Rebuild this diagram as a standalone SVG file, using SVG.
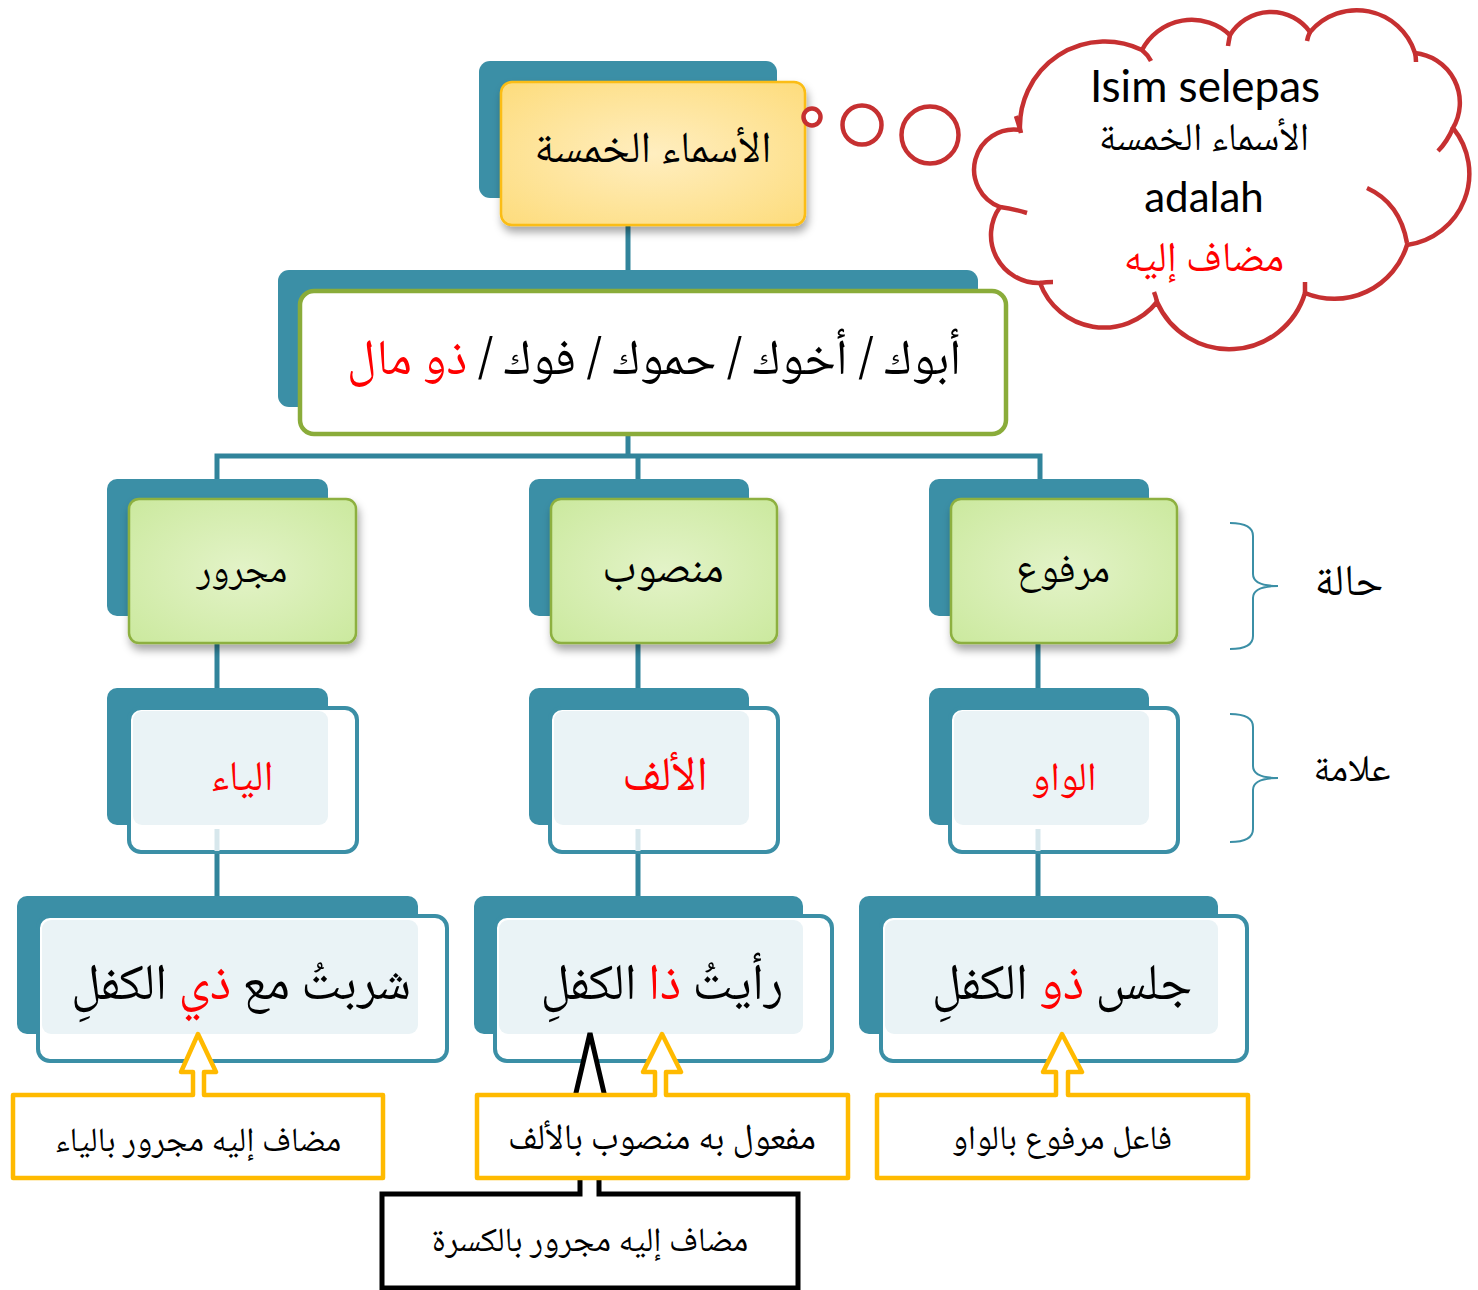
<svg xmlns="http://www.w3.org/2000/svg" width="1478" height="1290" viewBox="0 0 1478 1290">
<defs>
<radialGradient id="gYellow" cx="50%" cy="50%" r="70%">
<stop offset="0" stop-color="#ffeec0"/><stop offset="1" stop-color="#fddc7c"/>
</radialGradient>
<radialGradient id="gGreen" cx="50%" cy="50%" r="70%">
<stop offset="0" stop-color="#e3f3c8"/><stop offset="1" stop-color="#cbe99e"/>
</radialGradient>
<filter id="shadow" x="-10%" y="-10%" width="130%" height="140%">
<feDropShadow dx="2" dy="6" stdDeviation="4" flood-color="#000" flood-opacity="0.35"/>
</filter>
</defs>
<style>
.ar{font-family:"Noto Naskh Arabic","Amiri","Scheherazade New","Noto Sans Arabic","DejaVu Sans",sans-serif;direction:rtl;text-anchor:middle;fill:#000}
.lat{font-family:"Lato","Open Sans",sans-serif;text-anchor:middle;fill:#000}
.red{fill:#ff0000}
.back{fill:#3b8fa6}
.conn{stroke:#31849b;stroke-width:5;fill:none}
.gfront{fill:url(#gGreen);stroke:#8db03f;stroke-width:2.5;filter:url(#shadow)}
.yfront{fill:url(#gYellow);stroke:#fbbd12;stroke-width:2.5;filter:url(#shadow)}
.outline{fill:#fff;stroke:#3b8fa6;stroke-width:4}
.light{fill:#eaf3f6}
.callout{fill:#fff;stroke:#ffba00;stroke-width:4.5;stroke-linejoin:round}
.blackbox{fill:#fff;stroke:#000;stroke-width:5;stroke-linejoin:miter}
.cloud{fill:#fff;stroke:#c63031;stroke-width:4.5}
.brace{fill:none;stroke:#3b8fa6;stroke-width:2}
</style>

<g id="connectors">
<path class="conn" d="M628,222 V292"/>
<path class="conn" d="M628,433 V456 M217,479 V456 H1040 V479 M638,456 V479"/>
<path class="conn" d="M217,640 V690 M638,640 V690 M1038,640 V690"/>
<path class="conn" d="M217,851 V898 M638,851 V898 M1038,851 V898"/>
</g>

<g id="node-top">
<rect class="back" x="479" y="61" width="298" height="137" rx="11"/>
<rect class="yfront" x="501" y="82" width="304" height="143" rx="11"/>
<text class="ar" x="653" y="162" font-size="44">الأسماء الخمسة</text>
</g>

<g id="thought-bubbles">
<circle cx="812" cy="117" r="8.5" fill="#fff" stroke="#c63031" stroke-width="4.5"/>
<circle cx="862" cy="125" r="19.5" fill="#fff" stroke="#c63031" stroke-width="4.5"/>
<circle cx="930" cy="135" r="28.5" fill="#fff" stroke="#c63031" stroke-width="4.5"/>
</g>

<g id="node-cloud">
<path class="cloud" d="M1020,130 A85,85 0 0,1 1142,50 A56,56 0 0,1 1230,35 A48,48 0 0,1 1310,32 A61,61 0 0,1 1415,53 A50,50 0 0,1 1453,128 A72,72 0 0,1 1407,245 A76,76 0 0,1 1305,293 A79,79 0 0,1 1157,302 A68,68 0 0,1 1040,283 A48,48 0 0,1 1000,207 A40,40 0 0,1 1020,130 Z"/>
<path fill="none" stroke="#c63031" stroke-width="4.5" d="M1016,116 Q1019,125 1021,133 M1142,50 Q1148,55 1151,61 M1230,35 Q1229,40 1228,46 M1310,32 Q1308,36 1307,41 M1415,53 Q1416,57 1416,62 M1453,128 Q1447,142 1438,151 M1367,188 Q1400,203 1407,243 M1305,293 Q1305,288 1305,282 M1157,302 Q1156,297 1154,292 M1040,283 Q1046,282 1053,282 M1000,207 Q1014,209 1027,213"/>
<text class="lat" x="1205" y="102" font-size="44">Isim selepas</text>
<text class="ar" x="1204" y="150" font-size="39">الأسماء الخمسة</text>
<text class="lat" x="1204" y="212" font-size="42">adalah</text>
<text class="ar red" x="1204" y="271" font-size="42">مضاف إليه</text>
</g>

<g id="node-list">
<rect class="back" x="278" y="270" width="700" height="137" rx="11"/>
<rect x="300" y="291" width="706" height="143" rx="14" fill="#fff" stroke="#8aac3a" stroke-width="4.5"/>
<text class="ar" x="654" y="374" font-size="50">أبوك / أخوك / حموك / فوك / <tspan class="red">ذو مال</tspan></text>
</g>

<g id="node-majrur">
<rect class="back" x="107" y="479" width="221" height="137" rx="10"/>
<rect class="gfront" x="129" y="499" width="227" height="144" rx="10"/>
<text class="ar" x="242" y="582" font-size="38">مجرور</text>
</g>
<g id="node-mansub">
<rect class="back" x="529" y="479" width="220" height="137" rx="10"/>
<rect class="gfront" x="551" y="499" width="226" height="144" rx="10"/>
<text class="ar" x="663" y="582" font-size="44">منصوب</text>
</g>
<g id="node-marfu">
<rect class="back" x="929" y="479" width="220" height="137" rx="10"/>
<rect class="gfront" x="951" y="499" width="226" height="144" rx="10"/>
<text class="ar" x="1063" y="582" font-size="40">مرفوع</text>
</g>

<g id="node-ya">
<rect class="back" x="107" y="688" width="221" height="137" rx="10"/>
<rect class="outline" x="129" y="708" width="228" height="144" rx="12"/>
<rect class="light" x="133" y="711" width="195" height="114" rx="9"/>
<line x1="217" y1="829" x2="217" y2="851" stroke="#d7e7ec" stroke-width="5"/>
<text class="ar red" x="242" y="790" font-size="42">الياء</text>
</g>
<g id="node-alif">
<rect class="back" x="529" y="688" width="220" height="137" rx="10"/>
<rect class="outline" x="550" y="708" width="228" height="144" rx="12"/>
<rect class="light" x="554" y="711" width="195" height="114" rx="9"/>
<line x1="638" y1="829" x2="638" y2="851" stroke="#d7e7ec" stroke-width="5"/>
<text class="ar red" x="665" y="790" font-size="48">الألف</text>
</g>
<g id="node-waw">
<rect class="back" x="929" y="688" width="220" height="137" rx="10"/>
<rect class="outline" x="950" y="708" width="228" height="144" rx="12"/>
<rect class="light" x="954" y="711" width="195" height="114" rx="9"/>
<line x1="1038" y1="829" x2="1038" y2="851" stroke="#d7e7ec" stroke-width="5"/>
<text class="ar red" x="1064" y="790" font-size="40">الواو</text>
</g>

<g id="node-ex-majrur">
<rect class="back" x="17" y="896" width="401" height="138" rx="10"/>
<rect class="outline" x="38" y="916" width="409" height="145" rx="12"/>
<rect class="light" x="42" y="920" width="376" height="114" rx="9"/>
<text class="ar" x="241" y="999" font-size="51">شربتُ مع <tspan class="red">ذي</tspan> الكفلِ</text>
</g>
<g id="node-ex-mansub">
<rect class="back" x="474" y="896" width="329" height="138" rx="10"/>
<rect class="outline" x="495" y="916" width="337" height="145" rx="12"/>
<rect class="light" x="499" y="920" width="304" height="114" rx="9"/>
<text class="ar" x="662" y="999" font-size="51">رأيتُ <tspan class="red">ذا</tspan> الكفلِ</text>
</g>
<g id="node-ex-marfu">
<rect class="back" x="859" y="896" width="359" height="138" rx="10"/>
<rect class="outline" x="881" y="916" width="366" height="145" rx="12"/>
<rect class="light" x="885" y="920" width="333" height="114" rx="9"/>
<text class="ar" x="1062" y="999" font-size="51">جلس <tspan class="red">ذو</tspan> الكفلِ</text>
</g>

<g id="node-kasrah">
<path class="blackbox" d="M382,1194 H580 V1110 H572 L590,1033 L608,1110 H599 V1194 H798 V1288 H382 Z"/>
<text class="ar" x="590" y="1251" font-size="34">مضاف إليه مجرور بالكسرة</text>
</g>

<g id="node-callout-ya">
<path class="callout" d="M13,1095 H193 V1072 H181 L198,1034 L216,1072 H204 V1095 H383 V1178 H13 Z"/>
<text class="ar" x="198" y="1151" font-size="34">مضاف إليه مجرور بالياء</text>
</g>
<g id="node-callout-alif">
<path class="callout" d="M477,1095 H655 V1072 H643 L662,1034 L681,1072 H666 V1095 H848 V1178 H477 Z"/>
<text class="ar" x="662" y="1149" font-size="36">مفعول به منصوب بالألف</text>
</g>
<g id="node-callout-waw">
<path class="callout" d="M877,1095 H1056 V1072 H1043 L1062,1034 L1082,1072 H1068 V1095 H1248 V1178 H877 Z"/>
<text class="ar" x="1062" y="1149" font-size="34">فاعل مرفوع بالواو</text>
</g>

<g id="label-hala">
<path class="brace" d="M1230,523 Q1253,523 1253,536 V574 Q1253,586 1278,586 Q1253,586 1253,598 V636 Q1253,649 1230,649"/>
<text class="ar" x="1349" y="595" font-size="44">حالة</text>
</g>
<g id="label-alama">
<path class="brace" d="M1230,714 Q1253,714 1253,727 V766 Q1253,778 1278,778 Q1253,778 1253,790 V829 Q1253,842 1230,842"/>
<text class="ar" x="1352" y="781" font-size="38">علامة</text>
</g>
</svg>
